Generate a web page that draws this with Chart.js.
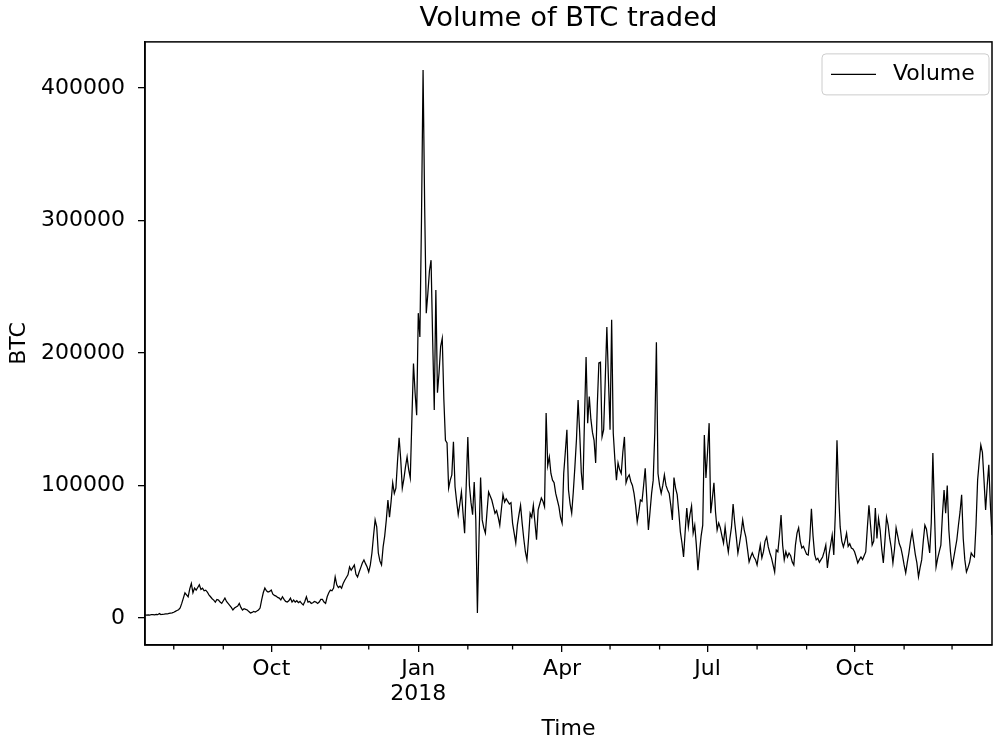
<!DOCTYPE html>
<html>
<head>
<meta charset="utf-8">
<title>Volume of BTC traded</title>
<script src="https://cdn.jsdelivr.net/npm/chart.js@4.4.0/dist/chart.umd.min.js"></script>
<style>
  body { margin: 0; background: #fff; }
  #wrap { width: 993px; height: 740px; }
</style>
</head>
<body>
<div id="wrap"><canvas id="volume-chart" width="993" height="740"></canvas></div>
<script>
// daily volume, first value is 2017-07-14
const startDate = "2017-07-14";
const volume = [
    2300, 2100, 2400, 2200, 2600, 2500, 2400, 2700, 2500, 3300,
    2600, 2800, 2900, 3100, 3000, 3400, 3600, 3800, 4300, 5000,
    5600, 6200, 7500, 11000, 15000, 19000, 17500, 16000, 22000, 26000,
    19000, 22500, 21000, 23000, 25000, 21500, 22500, 20500, 21000, 19600,
    17500, 16000, 14500, 13500, 12000, 14000, 13500, 12000, 11000, 13000,
    15000, 12500, 11000, 9500, 8000, 6000, 7500, 8300, 9000, 11000,
    8000, 6000, 7000, 6500, 6000, 4800, 3800, 4200, 5000, 4500,
    5200, 6000, 7500, 13600, 19000, 22600, 20500, 19600, 20000, 21000,
    18000, 17000, 16500, 15500, 15000, 13600, 16000, 14000, 12500, 12000,
    13000, 15000, 12000, 13500, 12000, 13000, 11500, 12500, 11000, 9800,
    12500, 16000, 12000, 12500, 11000, 11500, 12500, 12000, 11000, 12000,
    14000, 14000, 12000, 11000, 16000, 19000, 21000, 20500, 22500, 31000,
    25000, 23000, 24000, 22500, 26000, 28500, 30500, 32500, 38500, 36000,
    38000, 40000, 33000, 31000, 34700, 38000, 41500, 43800, 41000, 38500,
    34700, 40000, 49000, 62000, 74000, 68700, 49000, 43000, 40000, 53600,
    62000, 74000, 89000, 76000, 88000, 102000, 94000, 98000, 118000, 136000,
    120000, 98000, 105000, 114000, 121500, 112000, 105600, 150000, 192000, 170000,
    153000, 230000, 212000, 300000, 413500, 310000, 230000, 245000, 262000, 270000,
    210000, 157000, 247500, 170000, 185000, 205000, 211000, 165000, 134000, 132000,
    98000, 104000, 108000, 133000, 99000, 88000, 78000, 86000, 95000, 79000,
    64000, 100000, 136600, 100000, 87000, 78000, 102600, 74000, 3800, 60000,
    106000, 74000, 68000, 64000, 80000, 95000, 92000, 89000, 84000, 79000,
    81000, 76000, 70000, 82000, 93000, 87500, 90000, 88000, 86000, 87000,
    71600, 64000, 56600, 70000, 78000, 85000, 71600, 60000, 50000, 43800,
    60000, 79000, 76000, 85000, 72000, 59000, 81500, 86000, 90500, 88000,
    84000, 154700, 115000, 121500, 109000, 104000, 102000, 94000, 89000, 84000,
    76000, 71600, 109000, 125000, 142000, 96600, 86000, 79000, 95000, 114000,
    135000, 164500, 140000, 110000, 96600, 150000, 197000, 147000, 167000, 150000,
    140000, 134000, 117000, 160000, 192500, 193000, 136600, 142000, 180000, 219600,
    180000, 142000, 225000, 139600, 120000, 104000, 117000, 112000, 109000, 125000,
    136600, 102000, 106000, 108000, 103000, 100000, 94000, 85000, 72500, 80000,
    89000, 88000, 100000, 113000, 90000, 66400, 80000, 94000, 104000, 140000,
    208000, 109000, 100000, 94000, 100000, 108000, 100000, 96600, 94000, 85000,
    74000, 106000, 98000, 93000, 80000, 65000, 56600, 46000, 65000, 83000,
    68700, 78000, 84500, 64000, 70000, 55000, 36000, 50000, 62000, 70000,
    138000, 105600, 125000, 147000, 79000, 90000, 102000, 80000, 66400, 71600,
    68000, 62000, 56600, 68700, 58000, 49800, 60000, 68700, 86000, 72000,
    61000, 49000, 56000, 64000, 74000, 66000, 61000, 52000, 42300, 46000,
    49000, 46000, 44000, 40000, 48000, 55000, 45300, 50000, 58000, 61000,
    53600, 49000, 45300, 40000, 34700, 51300, 50000, 62000, 77700, 55000,
    43800, 50000, 46000, 49000, 47000, 42300, 40000, 55000, 64000, 68000,
    58000, 52800, 54000, 51000, 48000, 47500, 60000, 82300, 62000, 48000,
    43800, 45000, 42000, 44000, 46000, 50000, 55000, 37700, 48000, 55000,
    62600, 47500, 80000, 134000, 95000, 68700, 58000, 53600, 58000, 64000,
    54000, 56000, 52800, 52000, 50000, 46000, 41500, 44000, 46000, 44000,
    47000, 49800, 68000, 85000, 70000, 55000, 58000, 83000, 60000, 75000,
    66400, 52000, 41500, 58000, 76000, 70000, 60000, 52800, 41500, 52000,
    68000, 62000, 56000, 52800, 47000, 40000, 34000, 42000, 49000, 58000,
    65000, 56600, 48000, 41500, 31000, 38000, 43800, 58000, 70000, 67000,
    58000, 49000, 72000, 124500, 80000, 38500, 45000, 50000, 55000, 78000,
    96600, 79000, 100000, 66400, 50000, 38500, 45000, 52000, 59000, 70000,
    80000, 93000, 60000, 43800, 34700, 38000, 42000, 49000, 47000, 46000,
    70000, 104000, 118000, 130500, 125000, 104000, 81500, 100000, 115500, 85000,
    62600
];

const tickDates = ["2017-10-01", "2018-01-01", "2018-04-01", "2018-07-01", "2018-10-01"];
const tickLabels = ["Oct", ["Jan", "2018"], "Apr", "Jul", "Oct"];
const minorTickDates = [
    "2017-08-01", "2017-09-01", "2017-11-01", "2017-12-01",
    "2018-02-01", "2018-03-01", "2018-05-01", "2018-06-01",
    "2018-08-01", "2018-09-01", "2018-11-01", "2018-12-01"
];
const yTicks = [0, 100000, 200000, 300000, 400000];

function dayIndex(dateStr) {
    return (Date.parse(dateStr) - Date.parse(startDate)) / 86400000;
}

Chart.defaults.font.family = "'DejaVu Sans', sans-serif";
Chart.defaults.color = "#000";

// minor ticks, the box round the axes and the legend
const framePlugin = {
    id: "frame",
    afterDraw(chart) {
        const { ctx, chartArea, scales } = chart;
        ctx.save();
        ctx.strokeStyle = "#000";

        ctx.lineWidth = 1.3;
        minorTickDates.forEach(d => {
            const px = scales.x.getPixelForValue(dayIndex(d));
            ctx.beginPath();
            ctx.moveTo(px, chartArea.bottom);
            ctx.lineTo(px, chartArea.bottom + 4.5);
            ctx.stroke();
        });

        ctx.lineWidth = 1.5;
        ctx.strokeRect(chartArea.left, chartArea.top,
            chartArea.right - chartArea.left, chartArea.bottom - chartArea.top);

        // legend box, top right
        const bw = 167, bh = 41, r = 4;
        const bx = chartArea.right - 170;
        const by = chartArea.top + 12;
        ctx.beginPath();
        ctx.moveTo(bx + r, by);
        ctx.lineTo(bx + bw - r, by);
        ctx.arcTo(bx + bw, by, bx + bw, by + r, r);
        ctx.lineTo(bx + bw, by + bh - r);
        ctx.arcTo(bx + bw, by + bh, bx + bw - r, by + bh, r);
        ctx.lineTo(bx + r, by + bh);
        ctx.arcTo(bx, by + bh, bx, by + bh - r, r);
        ctx.lineTo(bx, by + r);
        ctx.arcTo(bx, by, bx + r, by, r);
        ctx.closePath();
        ctx.fillStyle = "rgba(255,255,255,0.8)";
        ctx.fill();
        ctx.strokeStyle = "#cccccc";
        ctx.lineWidth = 1;
        ctx.stroke();

        const ds = chart.data.datasets[0];
        ctx.strokeStyle = ds.borderColor;
        ctx.lineWidth = ds.borderWidth;
        ctx.beginPath();
        ctx.moveTo(bx + 9, by + 20.5);
        ctx.lineTo(bx + 54, by + 20.5);
        ctx.stroke();

        ctx.fillStyle = "#000";
        ctx.font = "22px 'DejaVu Sans'";
        ctx.textBaseline = "middle";
        ctx.textAlign = "left";
        ctx.fillText(ds.label, bx + 71, by + 20.5);
        ctx.restore();
    }
};

const ctx = document.getElementById("volume-chart").getContext("2d");

new Chart(ctx, {
    type: "line",
    data: {
        datasets: [{
            label: "Volume",
            data: volume.map((v, i) => ({ x: i, y: v })),
            borderColor: "#000",
            borderWidth: 1.25,
            pointRadius: 0,
            tension: 0,
            fill: false
        }]
    },
    options: {
        responsive: false,
        animation: false,
        layout: { padding: { left: 0, right: 1, top: 0, bottom: 0 } },
        plugins: {
            legend: { display: false },
            tooltip: { enabled: false },
            title: {
                display: true,
                fullSize: false, // centre the title over the plot, not the canvas
                text: "Volume of BTC traded",
                color: "#000",
                font: { size: 27.4, weight: "normal" },
                padding: { top: 2, bottom: 7 }
            }
        },
        scales: {
            x: {
                type: "linear",
                min: 0,
                max: volume.length - 1,
                afterBuildTicks: scale => {
                    scale.ticks = tickDates.map(d => ({ value: dayIndex(d) }));
                },
                afterFit: scale => { scale.height = 95; },
                ticks: {
                    autoSkip: false,
                    maxRotation: 0,
                    padding: 5,
                    color: "#000",
                    font: { size: 22, lineHeight: 1.12 },
                    callback: (value, index) => tickLabels[index]
                },
                grid: { drawOnChartArea: false, drawTicks: true, tickLength: 7, color: "#000", lineWidth: 1.3 },
                border: { display: true, color: "#000", width: 1.5 },
                title: { display: true, text: "Time", color: "#000", font: { size: 22 }, padding: { top: 0, bottom: -2 } }
            },
            y: {
                min: -20400,
                max: 434700,
                afterBuildTicks: scale => {
                    scale.ticks = yTicks.map(v => ({ value: v }));
                },
                afterFit: scale => { scale.width = 145; },
                ticks: {
                    padding: 13,
                    color: "#000",
                    font: { size: 22 },
                    callback: value => String(value)
                },
                grid: { drawOnChartArea: false, drawTicks: true, tickLength: 7, color: "#000", lineWidth: 1.3 },
                border: { display: true, color: "#000", width: 1.5 },
                title: { display: true, text: "BTC", color: "#000", font: { size: 22 }, padding: { top: 6, bottom: 0 } }
            }
        }
    },
    plugins: [framePlugin]
});
</script>
</body>
</html>
